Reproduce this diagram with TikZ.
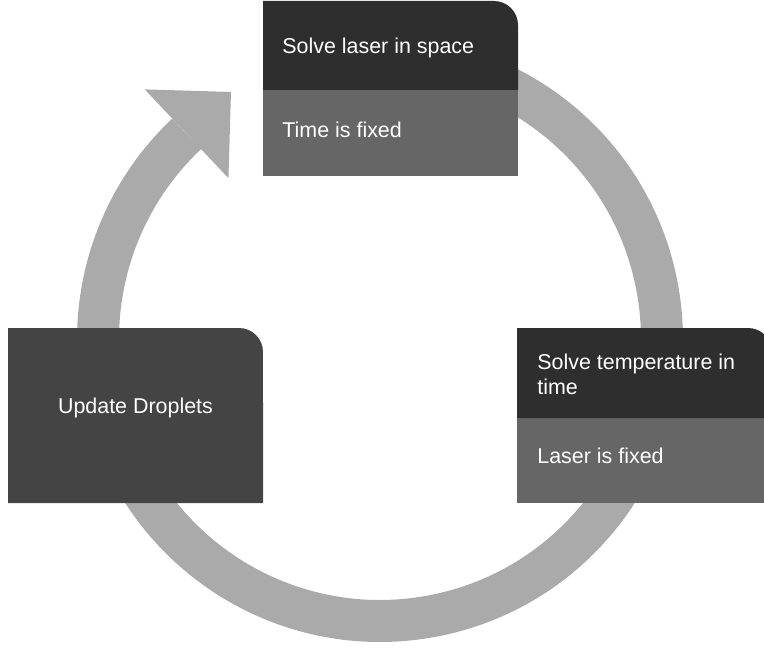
\documentclass[tikz,border=0pt]{standalone}
\usepackage{fontspec}
\setmainfont{Liberation Sans}
\definecolor{ringgray}{HTML}{AAAAAA}
\definecolor{headdark}{HTML}{2E2E2E}
\definecolor{bodygray}{HTML}{666666}
\definecolor{boxdark}{HTML}{444444}
\tikzset{
  ring/.style={draw=ringgray, line width=0.84cm},
  tip/.style={fill=ringgray},
  label/.style={text=white, inner sep=0pt, anchor=base west,
    font=\fontsize{12.2}{14.2}\selectfont},
  clabel/.style={label, anchor=base},
}
\begin{document}
\begin{tikzpicture}[x=0.02cm, y=0.02cm]
\useasboundingbox (0,0) rectangle (764,647);

% cycle ring: arc from under the top box, clockwise round to the arrow head
\coordinate (c) at (380,308);
\draw[ring] ([shift={(100:5.64cm)}]c) arc[start angle=100, end angle=-226.7, radius=5.64cm];
\begin{scope}[shift={(c)}, rotate=133.3]
  \coordinate (hbase) at (281,0);
  \coordinate (hout) at (343,0);
  \coordinate (hin) at (221,0);
  \coordinate (htip) at (282,-61);
  \fill[tip] (hout) -- (htip) -- (hin) -- cycle;
\end{scope}

% top box: solve laser
\fill[bodygray] (263,471) rectangle (518,557);
\fill[headdark] (263,557) -- (263,646) -- (494,646)
  arc[start angle=90, end angle=0, radius=0.48cm] -- (518,557) -- cycle;
\node[label] (laser) at (282,593) {Solve laser in space};
\node[label] (laserfix) at (282,510) {Time is fixed};

% right box: solve temperature
\fill[bodygray] (517,144) rectangle (772,229);
\fill[headdark] (517,229) -- (517,319) -- (748,319)
  arc[start angle=90, end angle=0, radius=0.48cm] -- (772,229) -- cycle;
\node[label] (tempA) at (537,278) {Solve temperature in};
\node[label] (tempB) at (537,253) {time};
\node[label] (tempfix) at (537,184) {Laser is fixed};

% left box: droplets
\fill[boxdark] (8,144) -- (8,319) -- (239,319)
  arc[start angle=90, end angle=0, radius=0.48cm] -- (263,144) -- cycle;
\node[clabel] (drops) at (135.5,234) {Update Droplets};
\end{tikzpicture}
\end{document}
